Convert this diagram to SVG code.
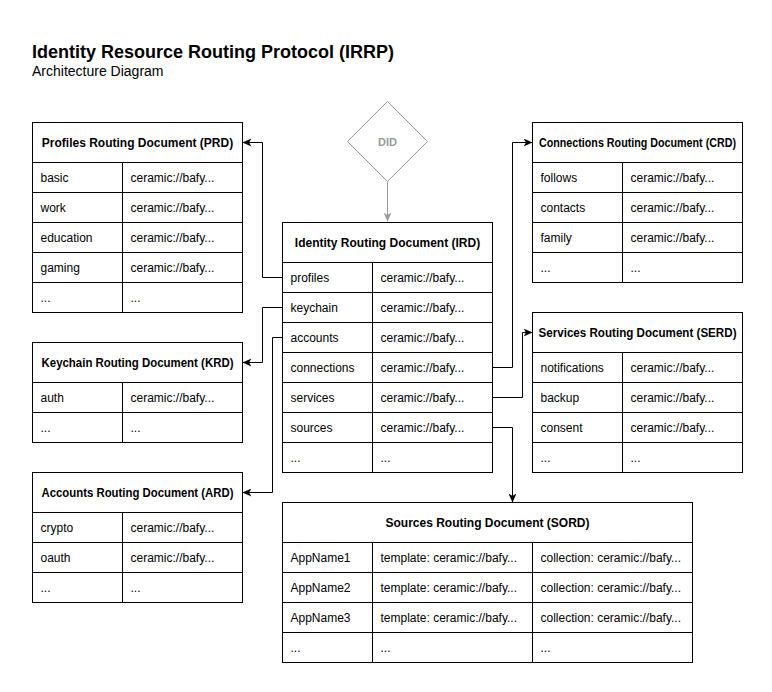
<svg xmlns="http://www.w3.org/2000/svg" width="772" height="692" viewBox="0 0 772 692">
<defs>
<style>
text{font-family:"Liberation Sans",Arial,Helvetica,sans-serif;fill:#000}
.t{font-size:18px;font-weight:bold}
.st{font-size:14px}
.h{font-size:12px;font-weight:bold;text-anchor:middle}
.c{font-size:12px}
.box{fill:#fff;stroke:#000;stroke-width:1}
.ln{stroke:#000;stroke-width:1;fill:none}
.con{stroke:#000;stroke-width:1;fill:none;marker-end:url(#ah)}
.gcon{stroke:#999;stroke-width:1;fill:none;marker-end:url(#gah)}
.did{fill:#fff;stroke:#999;stroke-width:1}
.didt{font-size:11px;font-weight:bold;fill:#999;text-anchor:middle}
</style>
<marker id="ah" markerUnits="userSpaceOnUse" markerWidth="9" markerHeight="8" viewBox="0 0 9 8" refX="9" refY="4" orient="auto"><path d="M0,0 L9,4 L0,8 L2.5,4 Z" fill="#000"/></marker>
<marker id="gah" markerUnits="userSpaceOnUse" markerWidth="9" markerHeight="8" viewBox="0 0 9 8" refX="9" refY="4" orient="auto"><path d="M0,0 L9,4 L0,8 L2.5,4 Z" fill="#999"/></marker>
</defs>
<rect width="772" height="692" fill="#fff"/>
<g id="title">
<text class="t" x="32" y="58">Identity Resource Routing Protocol (IRRP)</text>
<text class="st" x="32" y="76">Architecture Diagram</text>
</g>
<g transform="translate(0.5,0.5)">
<g id="connectors">
<path class="gcon" d="M387,181 V221"/>
<path class="con" d="M282,277 H262 V142 H242"/>
<path class="con" d="M282,307 H262 V362 H242"/>
<path class="con" d="M282,337 H272 V492 H242"/>
<path class="con" d="M492,367 H512 V142 H532"/>
<path class="con" d="M492,397 H522 V332 H532"/>
<path class="con" d="M492,427 H512 V502"/>
</g>
<g id="did">
<polygon class="did" points="387,101 427,141 387,181 347,141"/>
<text class="didt" x="387" y="145">DID</text>
</g>
<g id="prd">
<rect class="box" x="32" y="122" width="210" height="190"/>
<path class="ln" d="M32,162 H242 M32,192 H242 M32,222 H242 M32,252 H242 M32,282 H242 M122,162 V312"/>
<text class="h" x="137" y="146">Profiles Routing Document (PRD)</text>
<text class="c" x="40" y="181">basic</text><text class="c" x="130" y="181">ceramic://bafy...</text>
<text class="c" x="40" y="211">work</text><text class="c" x="130" y="211">ceramic://bafy...</text>
<text class="c" x="40" y="241">education</text><text class="c" x="130" y="241">ceramic://bafy...</text>
<text class="c" x="40" y="271">gaming</text><text class="c" x="130" y="271">ceramic://bafy...</text>
<text class="c" x="40" y="301">...</text><text class="c" x="130" y="301">...</text>
</g>
<g id="krd">
<rect class="box" x="32" y="342" width="210" height="100"/>
<path class="ln" d="M32,382 H242 M32,412 H242 M122,382 V442"/>
<text class="h" x="137" y="366" textLength="192" lengthAdjust="spacingAndGlyphs">Keychain Routing Document (KRD)</text>
<text class="c" x="40" y="401">auth</text><text class="c" x="130" y="401">ceramic://bafy...</text>
<text class="c" x="40" y="431">...</text><text class="c" x="130" y="431">...</text>
</g>
<g id="ard">
<rect class="box" x="32" y="472" width="210" height="130"/>
<path class="ln" d="M32,512 H242 M32,542 H242 M32,572 H242 M122,512 V602"/>
<text class="h" x="137" y="496" textLength="192" lengthAdjust="spacingAndGlyphs">Accounts Routing Document (ARD)</text>
<text class="c" x="40" y="531">crypto</text><text class="c" x="130" y="531">ceramic://bafy...</text>
<text class="c" x="40" y="561">oauth</text><text class="c" x="130" y="561">ceramic://bafy...</text>
<text class="c" x="40" y="591">...</text><text class="c" x="130" y="591">...</text>
</g>
<g id="ird">
<rect class="box" x="282" y="222" width="210" height="250"/>
<path class="ln" d="M282,262 H492 M282,292 H492 M282,322 H492 M282,352 H492 M282,382 H492 M282,412 H492 M282,442 H492 M372,262 V472"/>
<text class="h" x="387" y="246">Identity Routing Document (IRD)</text>
<text class="c" x="290" y="281">profiles</text><text class="c" x="380" y="281">ceramic://bafy...</text>
<text class="c" x="290" y="311">keychain</text><text class="c" x="380" y="311">ceramic://bafy...</text>
<text class="c" x="290" y="341">accounts</text><text class="c" x="380" y="341">ceramic://bafy...</text>
<text class="c" x="290" y="371">connections</text><text class="c" x="380" y="371">ceramic://bafy...</text>
<text class="c" x="290" y="401">services</text><text class="c" x="380" y="401">ceramic://bafy...</text>
<text class="c" x="290" y="431">sources</text><text class="c" x="380" y="431">ceramic://bafy...</text>
<text class="c" x="290" y="461">...</text><text class="c" x="380" y="461">...</text>
</g>
<g id="crd">
<rect class="box" x="532" y="122" width="210" height="160"/>
<path class="ln" d="M532,162 H742 M532,192 H742 M532,222 H742 M532,252 H742 M622,162 V282"/>
<text class="h" x="637" y="146" textLength="197" lengthAdjust="spacingAndGlyphs">Connections Routing Document (CRD)</text>
<text class="c" x="540" y="181">follows</text><text class="c" x="630" y="181">ceramic://bafy...</text>
<text class="c" x="540" y="211">contacts</text><text class="c" x="630" y="211">ceramic://bafy...</text>
<text class="c" x="540" y="241">family</text><text class="c" x="630" y="241">ceramic://bafy...</text>
<text class="c" x="540" y="271">...</text><text class="c" x="630" y="271">...</text>
</g>
<g id="serd">
<rect class="box" x="532" y="312" width="210" height="160"/>
<path class="ln" d="M532,352 H742 M532,382 H742 M532,412 H742 M532,442 H742 M622,352 V472"/>
<text class="h" x="637" y="336" textLength="198" lengthAdjust="spacingAndGlyphs">Services Routing Document (SERD)</text>
<text class="c" x="540" y="371">notifications</text><text class="c" x="630" y="371">ceramic://bafy...</text>
<text class="c" x="540" y="401">backup</text><text class="c" x="630" y="401">ceramic://bafy...</text>
<text class="c" x="540" y="431">consent</text><text class="c" x="630" y="431">ceramic://bafy...</text>
<text class="c" x="540" y="461">...</text><text class="c" x="630" y="461">...</text>
</g>
<g id="sord">
<rect class="box" x="282" y="502" width="410" height="160"/>
<path class="ln" d="M282,542 H692 M282,572 H692 M282,602 H692 M282,632 H692 M372,542 V662 M532,542 V662"/>
<text class="h" x="487" y="526">Sources Routing Document (SORD)</text>
<text class="c" x="290" y="561">AppName1</text><text class="c" x="380" y="561">template: ceramic://bafy...</text><text class="c" x="540" y="561">collection: ceramic://bafy...</text>
<text class="c" x="290" y="591">AppName2</text><text class="c" x="380" y="591">template: ceramic://bafy...</text><text class="c" x="540" y="591">collection: ceramic://bafy...</text>
<text class="c" x="290" y="621">AppName3</text><text class="c" x="380" y="621">template: ceramic://bafy...</text><text class="c" x="540" y="621">collection: ceramic://bafy...</text>
<text class="c" x="290" y="651">...</text><text class="c" x="380" y="651">...</text><text class="c" x="540" y="651">...</text>
</g>
</g>
</svg>
